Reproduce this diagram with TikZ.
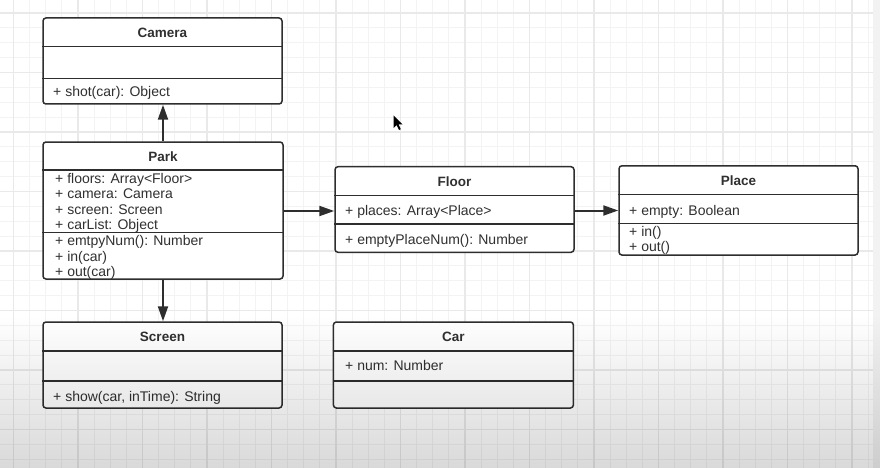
\documentclass[tikz,border=0pt]{standalone}
\usepackage{fontspec}
\setmainfont{Liberation Sans}
\usetikzlibrary{arrows.meta,fadings}
\definecolor{ink}{HTML}{2E2E2E}
\definecolor{txt}{HTML}{303030}
\definecolor{minorgrid}{HTML}{F3F3F3}
\definecolor{majorgrid}{HTML}{E9E9E9}
\tikzset{
  cls/.style={draw=ink, line width=1.5pt, rounded corners=3pt, fill=white, inner sep=0pt},
  divider/.style={draw=ink, line width=1.4pt},
  ttl/.style={font=\fontsize{13.5}{14}\selectfont\bfseries, text=txt, inner sep=0pt,
              text height=10pt, text depth=0pt, anchor=center},
  mbr/.style={font=\fontsize{14}{15}\selectfont, text=txt, inner sep=0pt,
              text height=10pt, text depth=0pt, anchor=west},
  arr/.style={draw=ink, line width=2pt, -{Triangle[length=15pt,width=10pt]}},
  gminor/.style={draw=minorgrid, line width=0.9pt},
  gmajor/.style={draw=majorgrid, line width=1.2pt},
}
\begin{document}
\begin{tikzpicture}[x=1pt,y=-1pt]
  % page and background grid
  \fill[white] (0,0) rectangle (880,468);
  \useasboundingbox (0,0) rectangle (880,468);
  \foreach \i in {-1,...,54} \draw[gminor] (13.5+16.125*\i,0) -- (13.5+16.125*\i,468);
  \foreach \i in {-1,...,31} \draw[gminor] (0,13+14.875*\i) -- (880,13+14.875*\i);
  \foreach \i in {0,...,13} \draw[gmajor] (13.5+64.5*\i,0) -- (13.5+64.5*\i,468);
  \foreach \i in {0,...,7} \draw[gmajor] (0,13+59.5*\i) -- (880,13+59.5*\i);
  \fill[black!5] (873,0) rectangle (880,468);

  % class boxes
  \node[cls, minimum width=239pt, minimum height=86pt]   (camera) at (162.5,61)    {};
  \node[cls, minimum width=240pt, minimum height=137pt]  (park)   at (163,210.5)   {};
  \node[cls, minimum width=239pt, minimum height=85.6pt] (floor)  at (454.5,209.5) {};
  \node[cls, minimum width=239pt, minimum height=89.3pt] (place)  at (738.5,210.4) {};
  \node[cls, minimum width=239pt, minimum height=86pt]   (screen) at (162.5,365)   {};
  \node[cls, minimum width=240pt, minimum height=86pt]   (car)    at (453.4,365)   {};

  % compartment dividers
  \foreach \b/\ya/\yb in {camera/46.7/78.3, park/170/232.3, floor/195.7/224,
                          place/194.3/223.3, screen/351/381, car/351/381} {
    \draw[divider] (\b.west |- 0,\ya) -- (\b.east |- 0,\ya);
    \draw[divider] (\b.west |- 0,\yb) -- (\b.east |- 0,\yb);
  }

  % Camera
  \node[ttl] (camera-t) at (camera.center |- 0,33) {Camera};
  \node[mbr] (camera-m1) at (53,92) {+ shot(car): Object};

  % Park
  \node[ttl] (park-t) at (park.center |- 0,156.5) {Park};
  \node[mbr] (park-a1) at (55,178.3) {+ floors: Array<Floor>};
  \node[mbr] (park-a2) at (55,193.5) {+ camera: Camera};
  \node[mbr] (park-a3) at (55,209.2) {+ screen: Screen};
  \node[mbr] (park-a4) at (55,224.4) {+ carList: Object};
  \node[mbr] (park-m1) at (55,240.5) {+ emtpyNum(): Number};
  \node[mbr] (park-m2) at (55,256) {+ in(car)};
  \node[mbr] (park-m3) at (55,271.5) {+ out(car)};

  % Floor
  \node[ttl] (floor-t) at (floor.center |- 0,181.5) {Floor};
  \node[mbr] (floor-a1) at (345,210.7) {+ places: Array<Place>};
  \node[mbr] (floor-m1) at (345,239.3) {+ emptyPlaceNum(): Number};

  % Place
  \node[ttl] (place-t) at (place.center |- 0,180.5) {Place};
  \node[mbr] (place-a1) at (629,210) {+ empty: Boolean};
  \node[mbr] (place-m1) at (629,231) {+ in()};
  \node[mbr] (place-m2) at (629,246.5) {+ out()};

  % Screen
  \node[ttl] (screen-t) at (screen.center |- 0,336) {Screen};
  \node[mbr] (screen-m1) at (53,396) {+ show(car, inTime): String};

  % Car
  \node[ttl] (car-t) at (car.center |- 0,336.5) {Car};
  \node[mbr] (car-a1) at (345,365) {+ num: Number};

  % associations
  \draw[arr] (park.north) -- (park.north |- camera.south);
  \draw[arr] (park.south) -- (park.south |- screen.north);
  \draw[arr] (park.east |- 0,211) -- (floor.west |- 0,211);
  \draw[arr] (floor.east |- 0,210.5) -- (place.west |- 0,210.5);

  % mouse pointer
  \fill[black] (393.5,115.5) -- (393.5,128) -- (396.5,125) -- (399,130) -- (400.8,129.2)
               -- (398.5,124.3) -- (402.5,124.3) -- cycle;

  % darkening towards the lower edge
  \fill[black, fill opacity=0.15, path fading=north] (0,315) rectangle (880,468);
\end{tikzpicture}
\end{document}
